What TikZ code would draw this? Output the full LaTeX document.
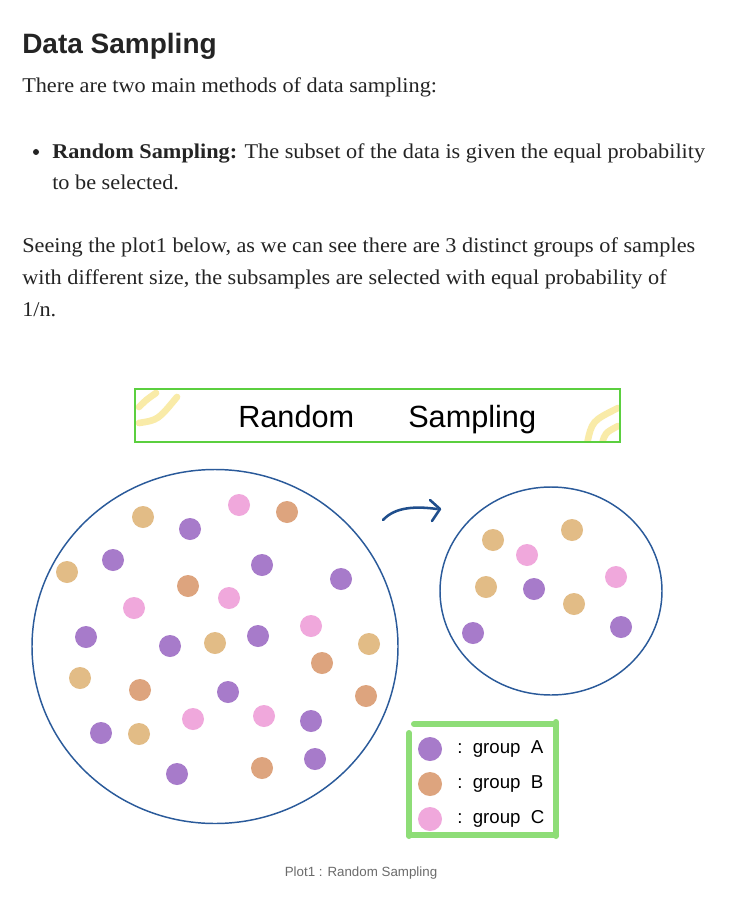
\documentclass[tikz,border=0pt]{standalone}
\usepackage{fontspec}
\setmainfont{Liberation Serif}[FakeStretch=1.06]
\newfontfamily\hsans{Liberation Sans}
\usetikzlibrary{arrows.meta}
\definecolor{txt}{HTML}{242424}
\definecolor{capgray}{HTML}{6B6B6B}
\definecolor{pur}{HTML}{A77BCA}
\definecolor{tan}{HTML}{E2BC86}
\definecolor{sal}{HTML}{DDA47E}
\definecolor{pnk}{HTML}{F0A8DC}
\definecolor{ringblue}{HTML}{2A5A9A}
\definecolor{arrowblue}{HTML}{1F4E8C}
\definecolor{bannergreen}{HTML}{5BCF3F}
\definecolor{legendgreen}{HTML}{8EDD77}
\definecolor{sunyellow}{HTML}{F9EBA8}
\tikzset{
  dot/.style={circle, inner sep=0pt, minimum size=16.5pt, fill=#1, draw=none},
  legdot/.style={circle, inner sep=0pt, minimum size=18pt, fill=#1, draw=none},
  bodytext/.style={anchor=base west, inner sep=0pt, text=txt, font=\fontsize{15.75}{20}\selectfont},
  ring/.style={draw=ringblue, line width=1.1pt},
  legline/.style={draw=legendgreen, line width=4.5pt, line cap=round},
  sunarc/.style={draw=sunyellow, line width=5pt, line cap=round},
  legtext/.style={anchor=west, inner sep=0pt, text=black, font=\hsans\fontsize{14}{16}\selectfont}
}
\begin{document}
\begin{tikzpicture}[x=0.75pt, y=-0.75pt]
\useasboundingbox[fill=white] (0,0) rectangle (753,913);

% header text
\node[anchor=base west, inner sep=0pt, text=txt, font=\hsans\bfseries\fontsize{21}{24}\selectfont] (title) at (22,54) {Data Sampling};
\node[bodytext] (l1) at (22,93) {There are two main methods of data sampling:};
\fill[txt] (36,152) circle (3);
\node[bodytext] (l2) at (52,158) {\textbf{Random Sampling:} The subset of the data is given the equal probability};
\node[bodytext] (l3) at (52,190) {to be selected.};
\node[bodytext] (l4) at (22,252) {Seeing the plot1 below, as we can see there are 3 distinct groups of samples};
\node[bodytext] (l5) at (22,284) {with different size, the subsamples are selected with equal probability of};
\node[bodytext] (l6) at (22,316) {1/n.};

% banner
\begin{scope}
\clip (135,389) rectangle (620,442);
\draw[sunarc] (139,407) .. controls (146,400) .. (156,393);
\draw[sunarc] (139,423) .. controls (158,420) .. (177,397);
\draw[sunarc] (587,444) .. controls (592,421) .. (618,408);
\draw[sunarc] (602,444) .. controls (605,433) .. (618,426);
\end{scope}
\node[draw=bannergreen, line width=2.2pt, minimum width=363.75pt, minimum height=39.75pt, inner sep=0pt] (banner) at (377.5,415.5) {};
\node[anchor=base west, inner sep=0pt, font=\hsans\fontsize{23}{26}\selectfont] (bt1) at (238,427) {Random};
\node[anchor=base west, inner sep=0pt, font=\hsans\fontsize{23}{26}\selectfont] (bt2) at (408,427) {Sampling};

% circles
\draw[ring] (215,646.5) ellipse [x radius=183, y radius=177];
\draw[ring] (551,591) ellipse [x radius=111, y radius=104];

% arrow
\coordinate (as) at (383,520);
\coordinate (ae) at (437,509);
\draw[arrowblue, line width=1.9pt, line cap=round] (as) .. controls (395,507) and (415,506) .. (ae);
\draw[arrowblue, line width=1.9pt, line cap=round, line join=round] (430,500) -- (440,509) -- (432,521);

% dots in big circle
\foreach \x/\y/\c [count=\i] in {
 143/517/tan, 190/529/pur, 239/505/pnk, 287/512/sal,
 67/572/tan, 113/560/pur, 262/565/pur, 341/579/pur,
 188/586/sal, 229/598/pnk, 134/608/pnk,
 86/637/pur, 170/646/pur, 215/643/tan, 258/636/pur, 311/626/pnk, 369/644/tan,
 322/663/sal, 80/678/tan, 140/690/sal, 228/692/pur, 366/696/sal,
 193/719/pnk, 264/716/pnk, 311/721/pur, 101/733/pur, 139/734/tan,
 177/774/pur, 262/768/sal, 315/759/pur}
 \node[dot=\c] (b\i) at (\x,\y) {};

% dots in small circle
\foreach \x/\y/\c [count=\i] in {
 493/540/tan, 527/555/pnk, 572/530/tan, 486/587/tan, 534/589/pur,
 616/577/pnk, 574/604/tan, 473/633/pur, 621/627/pur}
 \node[dot=\c] (s\i) at (\x,\y) {};

% legend
\draw[legline] (414,724) -- (556,724);
\draw[legline] (556,722) -- (556,836);
\draw[legline] (409,733) -- (409,836);
\draw[legline] (409,835) -- (556,835);
\node[legdot=pur] (ka) at (430,749) {};
\node[legdot=sal] (kb) at (430,784) {};
\node[legdot=pnk] (kc) at (430,819) {};
\node[legtext] (ta) at (457,749) {:\ \ group\ \ A};
\node[legtext] (tb) at (457,784) {:\ \ group\ \ B};
\node[legtext] (tc) at (457,819) {:\ \ group\ \ C};

% caption
\node[text=capgray, inner sep=0pt, font=\hsans\fontsize{10}{12}\selectfont] (cap) at (361,873) {Plot1 : Random Sampling};
\end{tikzpicture}
\end{document}
